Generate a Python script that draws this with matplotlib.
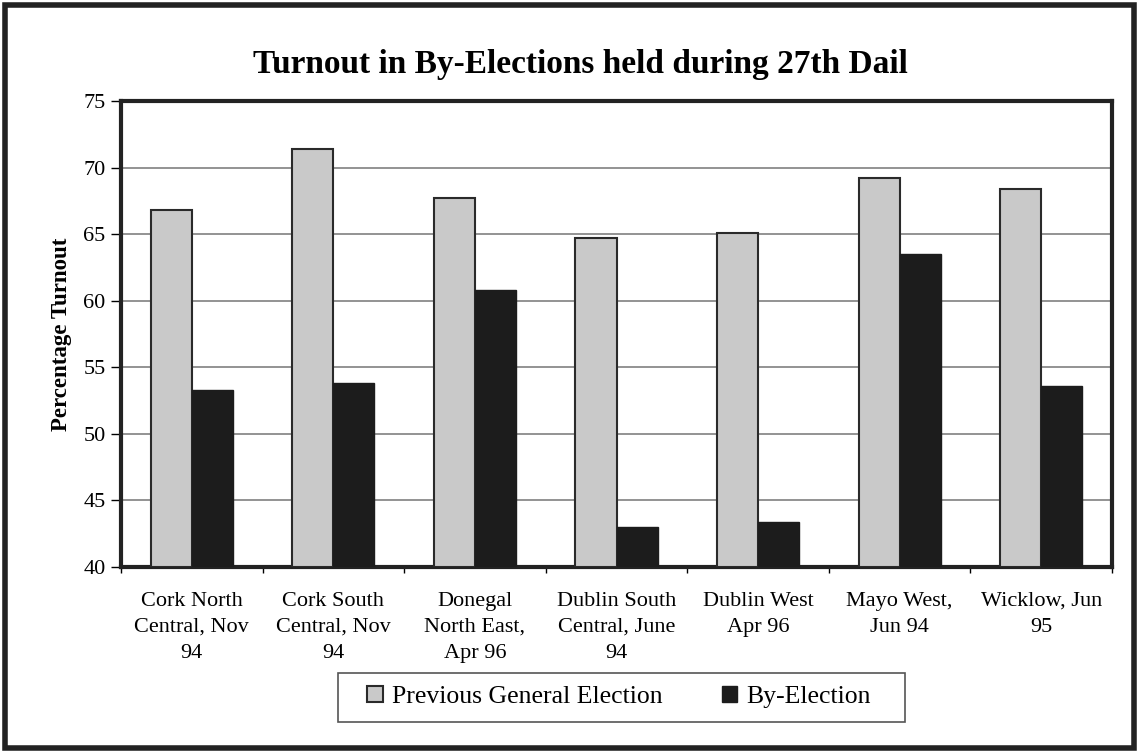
import numpy as np
import matplotlib
matplotlib.use("Agg")
import matplotlib.pyplot as plt
from matplotlib.patches import Rectangle

# data
constituencies = ["Cork North\nCentral, Nov\n94", "Cork South\nCentral, Nov\n94",
                  "Donegal\nNorth East,\nApr 96", "Dublin South\nCentral, June\n94",
                  "Dublin West\nApr 96", "Mayo West,\nJun 94", "Wicklow, Jun\n95"]
previous_ge = [66.8, 71.4, 67.7, 64.7, 65.1, 69.2, 68.4]
by_election = [53.3, 53.8, 60.8, 43.0, 43.4, 63.5, 53.6]
yticks = [40, 45, 50, 55, 60, 65, 70, 75]

plt.rcParams['font.family'] = ['Liberation Serif', 'DejaVu Serif']

fig = plt.figure(figsize=(11.39, 7.51), dpi=100)
ax = fig.add_axes([121/1139, 1 - 567/751, (1112-121)/1139, (567-101)/751])

x = np.arange(len(constituencies))
w = 0.29
ax.bar(x - w/2, np.array(previous_ge) - 40, w, bottom=40, color="#c9c9c9",
       edgecolor="#2a2a2a", linewidth=1.5, label="Previous General Election", zorder=3)
ax.bar(x + w/2, np.array(by_election) - 40, w, bottom=40, color="#1c1c1c",
       edgecolor="#1c1c1c", linewidth=1.0, label="By-Election", zorder=3)

ax.set_xlim(-0.5, len(constituencies) - 0.5)
ax.set_ylim(40, 75)
ax.set_yticks(yticks)
ax.tick_params(axis='y', labelsize=16, length=7, width=1, direction='out', pad=4)
ax.set_xticks(x)
ax.set_xticklabels(constituencies, fontsize=16, linespacing=1.5)
ax.tick_params(axis='x', length=0, pad=18)
ax.set_xticks(np.arange(len(constituencies) + 1) - 0.5, minor=True)
ax.tick_params(axis='x', which='minor', length=4, width=1)

ax.yaxis.grid(True, color="#8a8a8a", linewidth=1.3, zorder=0)
ax.set_axisbelow(True)
for s in ax.spines.values():
    s.set_linewidth(3)
    s.set_color("#222222")

ax.set_ylabel("Percentage Turnout", fontsize=16.5, fontweight='bold', labelpad=8)
fig.text(0.51, 1 - 65/751, "Turnout in By-Elections held during 27th Dail",
         ha='center', va='center', fontsize=24, fontweight='bold')

# legend text without its own frame, box drawn separately to match the wide padding
leg = fig.legend(*ax.get_legend_handles_labels(), loc='center',
                 bbox_to_anchor=(619/1139, 1 - 697/751), ncol=2, fontsize=18.5,
                 frameon=False, handlelength=0.6, handleheight=0.6,
                 handletextpad=0.35, columnspacing=2.3, borderpad=0.0)
fig.patches.append(Rectangle((338/1139, 1 - 722/751), (905-338)/1139, 49/751,
                             transform=fig.transFigure, fill=False,
                             edgecolor="#555555", linewidth=1.2))

fig.patches.append(Rectangle((0.004, 0.004), 0.992, 0.99, transform=fig.transFigure,
                             fill=False, edgecolor="#222222", linewidth=4))

fig.savefig("out.png", dpi=100)
